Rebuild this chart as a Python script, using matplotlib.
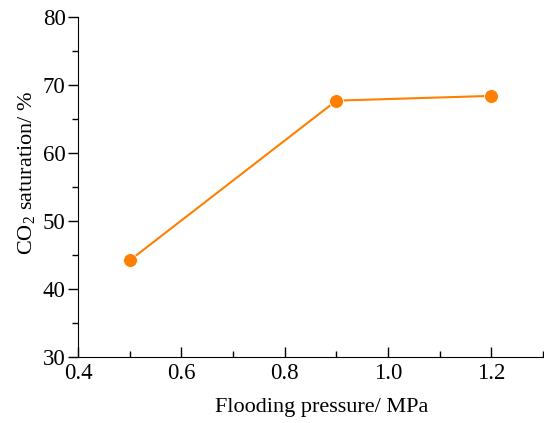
import matplotlib
matplotlib.use('Agg')
import matplotlib.pyplot as plt
from matplotlib.ticker import MultipleLocator

plt.rcParams['font.family'] = ['Liberation Serif', 'DejaVu Serif']
plt.rcParams['mathtext.fontset'] = 'custom'
plt.rcParams['mathtext.rm'] = 'Liberation Serif'

# flooding pressure (MPa) vs CO2 saturation (%)
pressure = [0.5, 0.9, 1.2]
saturation = [44.2, 67.7, 68.4]

fig = plt.figure(figsize=(5.44, 4.23), dpi=100)
ax = fig.add_axes([78/544, (423-357)/423, (543-78)/544, (357-17)/423])

ax.plot(pressure, saturation, color='#FF8000', linewidth=1.5,
        marker='o', markersize=10, markeredgecolor='white', markeredgewidth=0.6)

ax.set_xlim(0.4, 1.3)
ax.set_ylim(30, 80)
ax.xaxis.set_major_locator(MultipleLocator(0.2))
ax.xaxis.set_minor_locator(MultipleLocator(0.1))
ax.yaxis.set_major_locator(MultipleLocator(10))
ax.yaxis.set_minor_locator(MultipleLocator(5))
ax.set_xticks([0.4, 0.6, 0.8, 1.0, 1.2])
ax.set_xticklabels(['0.4', '0.6', '0.8', '1.0', '1.2'])

ax.spines['top'].set_visible(False)
ax.spines['right'].set_visible(False)
ax.tick_params(axis='x', which='both', direction='in', labelsize=16.5, pad=4)
ax.tick_params(axis='y', which='both', direction='out', labelsize=16.5, pad=2)
ax.tick_params(which='major', length=7, width=1)
ax.tick_params(which='minor', length=4, width=1)

ax.set_xlabel('Flooding pressure/ MPa', fontsize=16)
ax.xaxis.set_label_coords(0.523, -0.12)
ax.set_ylabel('CO$_{2}$ saturation/ %', fontsize=16)
ax.yaxis.set_label_coords(-0.087, 0.543)

fig.savefig('out.png', dpi=100)
